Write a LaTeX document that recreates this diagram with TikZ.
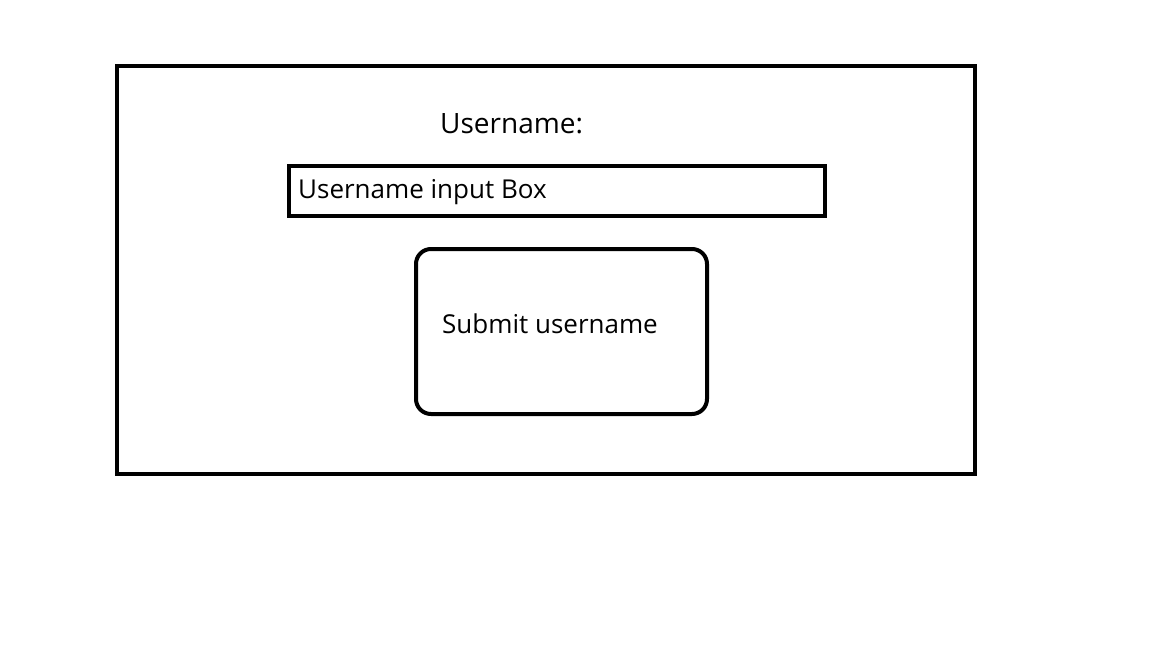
\documentclass[tikz,border=0pt]{standalone}
\usepackage{fontspec}
\setmainfont{Open Sans}
\begin{document}
\begin{tikzpicture}[x=1pt,y=-1pt,
  frame/.style={draw=black,line width=4pt},
  lbl/.style={anchor=base west,inner sep=0pt,font=\fontsize{26}{30}\selectfont}]
\useasboundingbox (0,0) rectangle (1152,648);
\draw[frame] (117,66) rectangle (975,474);
\node[lbl,font=\fontsize{28}{32}\selectfont] (title) at (440,133) {Username:};
\draw[frame,line width=4.5pt] (289,166) rectangle (825,216);
\node[lbl] (input) at (298,198) {Username input Box};
\draw[frame,rounded corners=15pt] (416,249) rectangle (707,414);
\node[lbl] (submit) at (442,333) {Submit username};
\end{tikzpicture}
\end{document}
